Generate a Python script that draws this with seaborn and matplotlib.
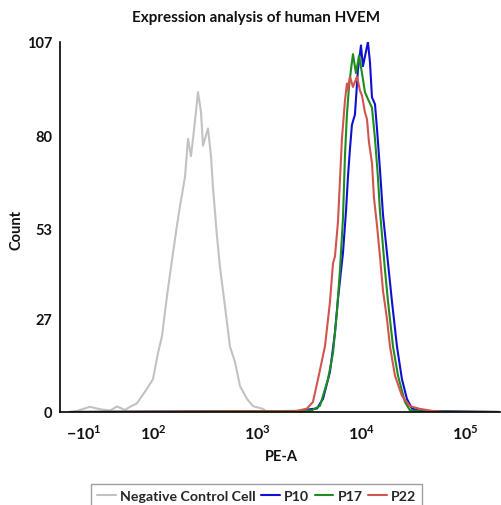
import numpy as np
import pandas as pd
import matplotlib
matplotlib.use("Agg")
import matplotlib.pyplot as plt
import seaborn as sns

# ---- data (x in display decades: 2 -> 10^2, 3 -> 10^3 ...) ----
neg_x = [1.202, 1.269, 1.394, 1.490, 1.587, 1.654, 1.731, 1.779, 1.846, 1.875,
         1.942, 2.000, 2.048, 2.087, 2.135, 2.183, 2.212, 2.231, 2.260, 2.308,
         2.337, 2.365, 2.385, 2.413, 2.433, 2.462, 2.481, 2.510, 2.529, 2.558,
         2.577, 2.615, 2.644, 2.692, 2.740, 2.788, 2.837, 2.904, 2.962, 3.058,
         3.096]
neg_y = [0, 0.3, 1.5, 0.8, 0.4, 1.6, 0.6, 1.5, 2.5, 3.8,
         6.7, 9.5, 17, 22, 33.6, 44, 50, 54, 59.6, 68,
         79, 74, 79, 86.7, 92.5, 86.7, 77, 80, 82, 74,
         65, 51, 42, 30.7, 19, 14.5, 7.5, 3.8, 1.7, 0.9,
         0]

p10_x = [1.20, 3.413, 3.510, 3.577, 3.635, 3.702, 3.750, 3.779, 3.827, 3.856,
         3.875, 3.894, 3.913, 3.942, 3.971, 4.000, 4.019, 4.067, 4.087, 4.106,
         4.135, 4.154, 4.183, 4.212, 4.250, 4.298, 4.346, 4.394, 4.442, 4.490,
         4.567, 5.33]
p10_y = [0, 0.3, 0.8, 1, 3.8, 11.6, 23, 32.7, 46, 58,
         68, 76, 83, 86, 99, 106, 100, 107, 101, 91,
         89, 82, 70, 57, 46, 32, 19, 9.5, 3.8, 1,
         0.3, 0]

p17_x = [1.20, 3.413, 3.529, 3.606, 3.683, 3.731, 3.769, 3.798, 3.827, 3.846,
         3.865, 3.885, 3.904, 3.923, 3.952, 3.981, 4.010, 4.038, 4.067, 4.106,
         4.135, 4.163, 4.183, 4.231, 4.260, 4.308, 4.356, 4.423, 4.471, 4.567,
         5.33]
p17_y = [0, 0.3, 0.5, 1.8, 9.5, 17, 29, 41, 56, 74,
         86, 94, 99, 103.5, 98, 103, 98, 92.5, 90.5, 88,
         79, 68, 58, 41, 32, 19, 10.5, 2.9, 0.5, 0.2,
         0]

p22_x = [1.20, 3.365, 3.413, 3.481, 3.538, 3.587, 3.654, 3.702, 3.731, 3.750,
         3.779, 3.798, 3.817, 3.846, 3.865, 3.875, 3.894, 3.923, 3.962, 3.990,
         4.010, 4.038, 4.058, 4.077, 4.106, 4.125, 4.154, 4.183, 4.212, 4.250,
         4.279, 4.327, 4.394, 4.471, 4.567, 4.692, 4.808, 5.33]
p22_y = [0, 0.2, 0.5, 1, 2.9, 9.5, 19, 31.8, 43, 45,
         55, 67, 79, 90, 95, 93, 97, 94, 97, 93,
         91.5, 86.7, 84.7, 78, 72, 62, 54, 45, 35, 27,
         19, 10.5, 4.7, 1.7, 0.9, 0.3, 0, 0]

series_names = ["Negative Control Cell", "P10", "P17", "P22"]
series_colors = ["#c2c2c2", "#1010d2", "#1e8c1e", "#d2544e"]

x_tick_pos = [1.337, 2, 3, 4, 5]
x_tick_labels = [r"$\mathbf{-10}^{\mathbf{1}}$", r"$\mathbf{10}^{\mathbf{2}}$",
                 r"$\mathbf{10}^{\mathbf{3}}$", r"$\mathbf{10}^{\mathbf{4}}$",
                 r"$\mathbf{10}^{\mathbf{5}}$"]
y_ticks = [0, 27, 53, 80, 107]

# ---- build frame ----
frames = []
for name, xs, ys in zip(series_names, [neg_x, p10_x, p17_x, p22_x],
                        [neg_y, p10_y, p17_y, p22_y]):
    frames.append(pd.DataFrame({"pos": xs, "count": ys, "sample": name}))
df = pd.concat(frames, ignore_index=True)

sns.set_theme(style="white")
plt.rcParams["font.family"] = ["Lato", "DejaVu Sans"]
plt.rcParams["font.weight"] = "bold"
plt.rcParams["mathtext.fontset"] = "custom"
plt.rcParams["mathtext.rm"] = "Lato:bold"
plt.rcParams["mathtext.bf"] = "Lato:bold"

fig = plt.figure(figsize=(5.02, 5.06), dpi=100)
ax = fig.add_axes([60 / 502, 93 / 506, 440 / 502, 370 / 506])

sns.lineplot(data=df, x="pos", y="count", hue="sample", hue_order=series_names,
             palette=series_colors, estimator=None, sort=False, lw=1.5, ax=ax)

handles, labels = ax.get_legend_handles_labels()
ax.get_legend().remove()

ax.set_xlim(1.106, 5.337)
ax.set_ylim(0, 107)
for s in ["top", "right"]:
    ax.spines[s].set_visible(False)
for s in ["left", "bottom"]:
    ax.spines[s].set_color("black")
    ax.spines[s].set_linewidth(1.2)

ax.set_xticks(x_tick_pos)
ax.set_xticklabels(x_tick_labels)
minor_x = list(np.arange(1.16, 1.98, 0.075))
for d in [2, 3, 4]:
    minor_x += [d + np.log10(k) for k in range(2, 10)]
ax.set_xticks(minor_x, minor=True)
ax.set_yticks(y_ticks)
ax.set_yticks(np.linspace(0, 107, 17), minor=True)

ax.tick_params(axis="both", which="major", direction="out", length=4, width=1,
               color="black", labelcolor="#111111")
ax.tick_params(axis="x", which="major", labelsize=11.5, pad=4)
ax.tick_params(axis="y", which="major", labelsize=10.5, pad=1.5)
ax.tick_params(axis="both", which="minor", direction="out", length=2.5, width=0.8,
               color="black")
for lab in ax.get_yticklabels():
    lab.set_fontweight("bold")

ax.set_xlabel("")
ax.set_ylabel("")
fig.text(256 / 502, 1 - 18 / 506, "Expression analysis of human HVEM",
         ha="center", va="center", fontsize=11, fontweight="bold", color="#111111")
fig.text(281 / 502, 1 - 457 / 506, "PE-A", ha="center", va="center",
         fontsize=10.5, fontweight="bold", color="#111111")
fig.text(17 / 502, 1 - 230 / 506, "Count", ha="center", va="center",
         rotation=90, fontsize=10.5, fontweight="bold", color="#111111")

leg = fig.legend(handles, labels, loc="upper center",
                 bbox_to_anchor=(256.7 / 502, 1 - 485 / 506), ncol=4,
                 frameon=True, fancybox=False, edgecolor="#888888",
                 handlelength=1.3, handletextpad=0.3, columnspacing=0.4,
                 borderpad=0.45, borderaxespad=0,
                 prop={"weight": "bold", "size": 10.2})
leg.get_frame().set_linewidth(1.0)

fig.savefig("out.png", dpi=100)
